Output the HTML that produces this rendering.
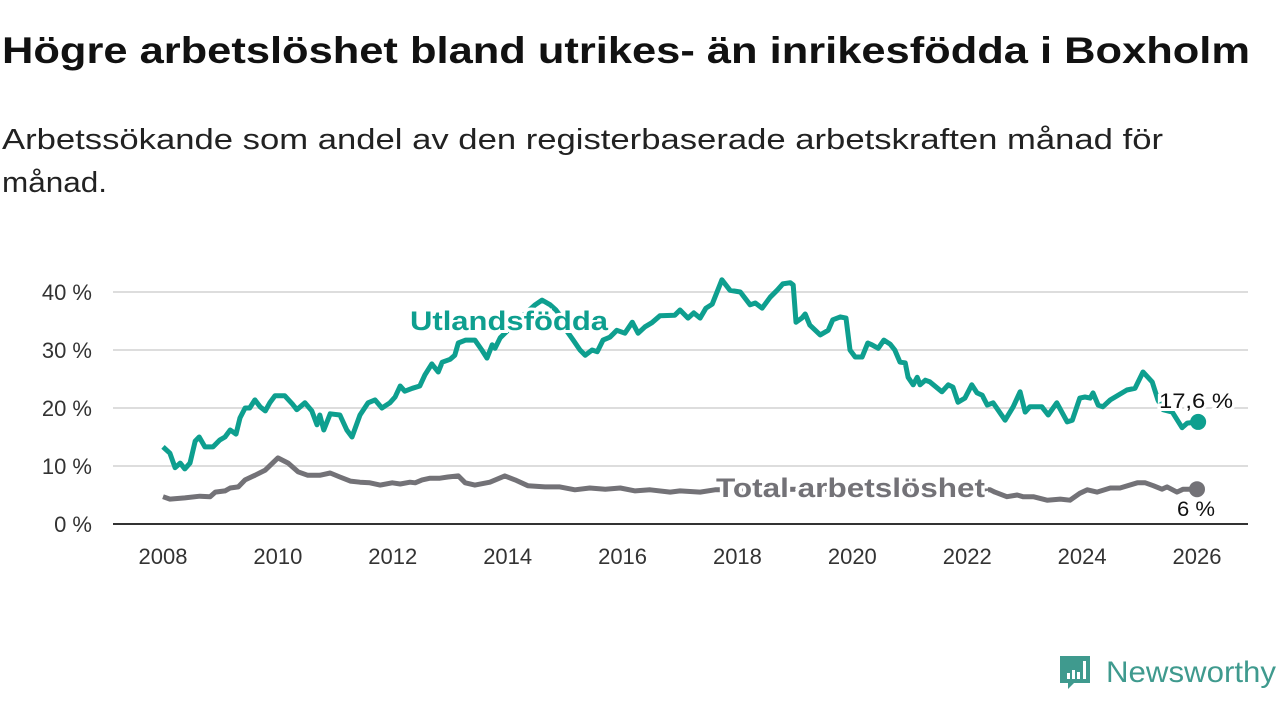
<!DOCTYPE html>
<html><head><meta charset="utf-8"><style>
body{margin:0;width:1280px;height:720px;background:#fff;font-family:"Liberation Sans","DejaVu Sans",sans-serif;overflow:hidden}
</style></head><body>
<svg width="1280" height="720" viewBox="0 0 1280 720">
<text x="2" y="63" font-size="37" font-weight="bold" fill="#111" textLength="1248" lengthAdjust="spacingAndGlyphs">Högre arbetslöshet bland utrikes- än inrikesfödda i Boxholm</text>
<text x="2" y="149" font-size="29" fill="#222" textLength="1161" lengthAdjust="spacingAndGlyphs">Arbetssökande som andel av den registerbaserade arbetskraften månad för</text>
<text x="2" y="192" font-size="29" fill="#222" textLength="105" lengthAdjust="spacingAndGlyphs">månad.</text>
<g id="grid"></g><g id="lines"></g><g id="labels"></g>
<g>
<path d="M1060 656h30v27h-16l-6 6v-6h-8z" fill="#3f9a8e"/>
<rect x="1067" y="673" width="3" height="6" fill="#fff"/><rect x="1072" y="670" width="3" height="9" fill="#fff"/><rect x="1077" y="672" width="3" height="7" fill="#fff"/><rect x="1083" y="661" width="3" height="18" fill="#fff"/>
<text x="1106" y="682" font-size="30" fill="#3f9a8e" textLength="170" lengthAdjust="spacingAndGlyphs">Newsworthy</text>
</g>
</svg>
<script>
const tealYears=[2008.00,2008.12,2008.21,2008.30,2008.38,2008.47,2008.56,2008.63,2008.73,2008.87,2008.99,2009.08,2009.17,2009.27,2009.34,2009.43,2009.51,2009.60,2009.69,2009.78,2009.86,2009.95,2010.12,2010.25,2010.33,2010.47,2010.59,2010.68,2010.73,2010.80,2010.91,2011.08,2011.20,2011.29,2011.43,2011.57,2011.69,2011.81,2011.95,2012.04,2012.13,2012.21,2012.34,2012.47,2012.56,2012.68,2012.79,2012.86,2013.00,2013.08,2013.14,2013.27,2013.43,2013.55,2013.64,2013.73,2013.78,2013.87,2014.22,2014.48,2014.60,2014.74,2014.84,2014.95,2015.02,2015.14,2015.26,2015.35,2015.47,2015.56,2015.66,2015.78,2015.90,2016.04,2016.17,2016.27,2016.39,2016.51,2016.65,2016.91,2017.00,2017.14,2017.24,2017.35,2017.45,2017.56,2017.73,2017.87,2018.05,2018.22,2018.31,2018.43,2018.57,2018.69,2018.79,2018.92,2018.97,2019.02,2019.12,2019.18,2019.26,2019.44,2019.58,2019.66,2019.79,2019.89,2019.96,2020.05,2020.17,2020.27,2020.34,2020.45,2020.55,2020.66,2020.74,2020.83,2020.92,2020.97,2021.06,2021.13,2021.18,2021.27,2021.35,2021.56,2021.67,2021.75,2021.84,2021.96,2022.08,2022.17,2022.26,2022.35,2022.45,2022.66,2022.80,2022.92,2023.01,2023.09,2023.30,2023.41,2023.56,2023.74,2023.83,2023.96,2024.05,2024.14,2024.19,2024.28,2024.36,2024.49,2024.78,2024.92,2025.06,2025.22,2025.32,2025.41,2025.57,2025.74,2025.83,2026.02];
const tealValues=[13.3,12.2,9.7,10.5,9.5,10.5,14.3,15.0,13.3,13.3,14.5,15.0,16.2,15.5,18.3,20.0,20.0,21.4,20.2,19.5,20.9,22.1,22.1,20.7,19.7,20.9,19.5,17.1,18.8,16.2,19.0,18.8,16.2,15.0,18.8,20.9,21.4,20.0,20.9,21.9,23.8,22.9,23.4,23.8,25.7,27.6,26.2,27.9,28.4,29.1,31.2,31.7,31.7,30.0,28.6,30.9,30.3,32.1,35.5,37.8,38.6,37.8,36.9,35.5,33.4,31.7,30.0,29.1,30.0,29.7,31.7,32.2,33.4,32.9,34.8,32.9,34.0,34.7,35.9,36.0,36.9,35.5,36.4,35.5,37.2,37.9,42.1,40.3,40.0,37.8,38.1,37.2,39.1,40.3,41.4,41.6,41.2,34.8,35.5,36.2,34.3,32.6,33.4,35.2,35.7,35.5,30.0,28.8,28.8,31.2,30.9,30.3,31.7,31.0,30.0,27.9,27.8,25.3,24.0,25.3,24.0,24.8,24.5,22.8,24.0,23.6,21.0,21.7,24.0,22.6,22.2,20.5,20.9,17.9,20.2,22.8,19.3,20.2,20.2,18.8,20.9,17.6,17.9,21.7,21.9,21.7,22.6,20.5,20.2,21.4,23.1,23.4,26.2,24.5,21.4,19.7,19.3,16.6,17.4,17.6];
const totalYears=[2008.00,2008.12,2008.38,2008.64,2008.82,2008.91,2009.08,2009.17,2009.31,2009.43,2009.60,2009.78,2010.00,2010.18,2010.35,2010.52,2010.73,2010.91,2011.08,2011.26,2011.43,2011.60,2011.78,2011.99,2012.13,2012.30,2012.39,2012.51,2012.65,2012.82,2012.96,2013.14,2013.26,2013.43,2013.69,2013.95,2014.13,2014.35,2014.65,2014.91,2015.17,2015.43,2015.70,2015.96,2016.22,2016.48,2016.83,2017.00,2017.35,2017.61,2019.09,2020.83,2022.40,2022.48,2022.69,2022.87,2022.97,2023.15,2023.39,2023.62,2023.79,2023.96,2024.09,2024.26,2024.49,2024.66,2024.96,2025.10,2025.24,2025.39,2025.48,2025.65,2025.76,2026.00];
const totalValues=[4.7,4.3,4.5,4.8,4.7,5.5,5.7,6.2,6.4,7.6,8.4,9.3,11.4,10.5,9.0,8.4,8.4,8.8,8.1,7.4,7.2,7.1,6.7,7.1,6.9,7.2,7.1,7.6,7.9,7.9,8.1,8.3,7.1,6.7,7.2,8.3,7.6,6.6,6.4,6.4,5.9,6.2,6.0,6.2,5.7,5.9,5.5,5.7,5.5,5.9,6.0,5.9,5.9,5.5,4.7,5.0,4.7,4.7,4.1,4.3,4.1,5.3,5.9,5.5,6.2,6.2,7.1,7.1,6.6,6.0,6.4,5.5,6.0,6.0];
const yTicks=[0,10,20,30,40];
const yTickLabels=["0 %","10 %","20 %","30 %","40 %"];
const xTicks=[2008,2010,2012,2014,2016,2018,2020,2022,2024,2026];
const tealLast=17.6, totalLast=6;

const NS="http://www.w3.org/2000/svg";
const xS=y=>163+(y-2008)*(1197-163)/18;
const yS=v=>524-v*5.8;
function mk(t,a,p){const e=document.createElementNS(NS,t);for(const k in a)e.setAttribute(k,a[k]);p.appendChild(e);return e;}
const grid=document.getElementById('grid'),lines=document.getElementById('lines'),labels=document.getElementById('labels');
yTicks.forEach((v,i)=>{
 if(v>0){const g=mk('line',{x1:113,x2:1248,y1:yS(v),y2:yS(v),stroke:'#ddd','stroke-width':2},grid);
 
 }
 const t=mk('text',{x:92,y:yS(v)+8,'text-anchor':'end','font-size':22,fill:'#333'},grid);t.textContent=yTickLabels[i];
 
 
});
const ax=mk('line',{x1:113,x2:1248,y1:524,y2:524,stroke:'#333','stroke-width':2},grid);


xTicks.forEach(y=>{
 const t=mk('text',{x:xS(y),y:564,'text-anchor':'middle','font-size':22,fill:'#333'},grid);t.textContent=y;
 
 
});
function line(xs,vs,color,name){
 const p=mk('path',{d:xs.map((x,i)=>(i?'L':'M')+xS(x).toFixed(1)+' '+yS(vs[i]).toFixed(1)).join(''),fill:'none',stroke:color,'stroke-width':5,'stroke-linejoin':'round'},lines);
 
 
 const c=mk('circle',{cx:xS(xs[xs.length-1]),cy:yS(vs[vs.length-1]),r:8,fill:color},lines);
 
 
}
line(totalYears,totalValues,'#737277','total-line');
line(tealYears,tealValues,'#0e9f8f','utlandsfodda-line');
function lab(x,y,txt,col,size,bold,anchor,name,len){
 const a={x:x,y:y,'font-size':size,'font-weight':bold?'bold':'normal',fill:col,stroke:'#fff','stroke-width':6,'paint-order':'stroke','text-anchor':anchor};
 if(len){a.textLength=len;a.lengthAdjust='spacingAndGlyphs';}
 const t=mk('text',a,labels);
 t.textContent=txt;
 
 
}
lab(410,330,'Utlandsfödda','#0e9f8f',27,true,'start','series-label-utlandsfodda',198);
lab(716,497,'Total arbetslöshet','#737277',27,true,'start','series-label-total',269);
lab(1196,408,tealLast.toFixed(1).replace('.',',')+' %','#111',21,false,'middle','end-value-utlandsfodda',74);
lab(1196,516,totalLast+' %','#111',21,false,'middle','end-value-total',38);
</script>
</body></html>
